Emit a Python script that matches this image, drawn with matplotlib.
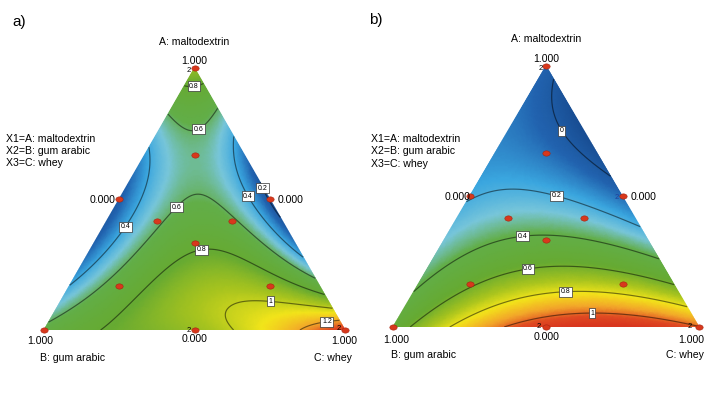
import numpy as np
import matplotlib
matplotlib.use("Agg")
import matplotlib.pyplot as plt
import matplotlib.tri as mtri
from matplotlib.colors import LinearSegmentedColormap, Normalize
from matplotlib.path import Path

plt.rcParams["font.family"] = ["Liberation Sans", "DejaVu Sans"]

# ------------------------------------------------------------------
# design points (mixture compositions A, B, C)
# ------------------------------------------------------------------
design_A = [1, 0, 0, 0.5, 0.5, 0, 1/3, 2/3, 1/6, 1/6, 5/12, 5/12]
design_B = [0, 1, 0, 0.5, 0, 0.5, 1/3, 1/6, 2/3, 1/6, 5/12, 1/6]
design_C = [0, 0, 1, 0, 0.5, 0.5, 1/3, 1/6, 1/6, 2/3, 1/6, 5/12]

# ------------------------------------------------------------------
# panel a) response (contour crossings etc.)
# ------------------------------------------------------------------
a_A = [1, 0, 0, 0.93, 0.93, 0.93, 0.81, 0.81, 0.81, 0.65,
       0.675, 0.55, 0.45, 0.30, 0.18, 0.03,
       0.755, 0.60, 0.45, 0.35, 0.29, 0.20, 0.14, 0.07,
       0, 0, 0, 0,
       1/3, 0.5, 0.275, 0.256, 0.294, 0.229, 0.164, 0.477, 0.393, 0.279,
       0.126, 0.382, 0.393, 0.508, 0.66, 0.546, 0.431, 0.076, 0.084, 0.034]
a_B = [0, 1, 0, 0.035, 0.07, 0, 0.19, 0.095, 0, 0.175,
       0.325, 0.45, 0.55, 0.70, 0.82, 0.97,
       0, 0, 0, 0, 0, 0, 0, 0,
       0.775, 0.5, 0.42, 0.15,
       1/3, 0.25, 0.3625, 0.496, 0.334, 0.177, 0.066, 0.166, 0.095, 0.043,
       0.784, 0.433, 0.56, 0.465, 0.04, 0.052, 0.043, 0.311, 0.207, 0.044]
a_val = [0.9, 0.65, 1.4, 0.8, 0.8, 0.8, 0.6, 0.6, 0.6, 0.5,
         0.4, 0.18, 0.15, 0.25, 0.4, 0.6,
         0.4, 0.18, 0.13, 0.2, 0.4, 0.6, 0.8, 1.0,
         0.8, 0.93, 1.0, 1.2,
         0.72, 0.6, 0.8, 0.8, 0.8, 0.8, 0.8, 0.6, 0.6, 0.6,
         0.6, 0.6, 0.4, 0.4, 0.4, 0.4, 0.4, 1.0, 1.0, 1.2]

# ------------------------------------------------------------------
# panel b) response
# ------------------------------------------------------------------
b_A = [1, 0, 0, 0, 0, 0, 0, 0,
       0.39, 0.257, 0.153, 0.065, 0.015, 0.585, 0.95,
       0.142, 0.456,
       0.054, 0.13, 0.23, 0.35, 0.525, 0.75]
b_B = [0, 1, 0, 0.944, 0.81, 0.64, 0.5, 0.35,
       0, 0, 0, 0, 0, 0, 0,
       0.858, 0.544,
       0.473, 0.435, 0.385, 0.325, 0.2375, 0.07]
b_val = [0.035, 0.5, 1.02, 0.6, 0.8, 1.0, 1.08, 1.12,
         0.2, 0.4, 0.6, 0.8, 1.0, 0.0, 0.0,
         0.4, 0.2,
         1.0, 0.8, 0.6, 0.4, 0.2, 0.0]

a_levels = [0.2, 0.4, 0.6, 0.8, 1.0, 1.2]
b_levels = [0.0, 0.2, 0.4, 0.6, 0.8, 1.0]


def scheffe_terms(A, B, C, order):
    cols = [A, B, C, A * B, A * C, B * C]
    if order == 3:
        cols += [A * B * (A - B), A * C * (A - C), B * C * (B - C), A * B * C]
    if order == 4:
        cols += [A * B * (A - B), A * C * (A - C), B * C * (B - C),
                 A * B * (A - B) ** 2, A * C * (A - C) ** 2, B * C * (B - C) ** 2,
                 A * A * B * C, A * B * B * C, A * B * C * C]
    return np.column_stack(cols)


def fit_model(A, B, val, order):
    A = np.asarray(A, float)
    B = np.asarray(B, float)
    C = 1 - A - B
    X = scheffe_terms(A, B, C, order)
    coef, *_ = np.linalg.lstsq(X, np.asarray(val, float), rcond=None)
    return coef


# triangular grid (B bottom-left, C bottom-right, A top)
n = 150
ii, jj = np.meshgrid(np.arange(n + 1), np.arange(n + 1))
m = ii + jj <= n
gA = ii[m] / n
gC = jj[m] / n
gB = np.clip(1 - gA - gC, 0, 1)
H = np.sqrt(3) / 2
tri = mtri.Triangulation(gC + gA / 2, gA * H)

cmap = LinearSegmentedColormap.from_list("de", [
    (0.00, "#15468a"), (0.12, "#2264b0"), (0.22, "#3aa6df"), (0.31, "#78c6da"),
    (0.40, "#62ae48"), (0.55, "#66aa32"), (0.66, "#a8c41e"), (0.75, "#f2e51a"),
    (0.85, "#f2a52a"), (0.93, "#e04a22"), (1.00, "#d8361e")])

W, HP = 708, 405
fig = plt.figure(figsize=(W / 100, HP / 100), dpi=100)


def px(x, y):
    return x / W, 1 - y / HP


def panel(rect, A, B, val, order, levels, vmin, vmax, label_px):
    ax = fig.add_axes(rect)
    ax.set_xlim(0, 1)
    ax.set_ylim(0, H)
    ax.axis("off")
    coef = fit_model(A, B, val, order)
    z = scheffe_terms(gA, gB, gC, order) @ coef
    norm = Normalize(vmin, vmax)
    ax.tripcolor(tri, z, shading="gouraud", cmap=cmap, norm=norm)
    lc = [tuple(np.array(cmap(norm(l))[:3]) * 0.5) for l in levels]
    cs = ax.tricontour(tri, z, levels=levels, colors=lc, linewidths=0.85)
    inv = ax.transData.inverted()
    pos = [tuple(inv.transform((x, HP - y))) for x, y in label_px]
    ax.clabel(cs, manual=pos, inline=False, fontsize=5,
              fmt=lambda v: f"{v:g}", colors="black")
    for t in cs.labelTexts:
        t.set_rotation(0)
        t.set_zorder(4)
        t.set_bbox(dict(boxstyle="square,pad=0.22", fc="white", ec="#333333", lw=0.5))
    dA = np.array(design_A)
    dC = np.array(design_C)
    circ = Path.unit_circle()
    ell = Path(circ.vertices * [1.0, 0.72], circ.codes)
    ax.scatter(dC + dA / 2, dA * H, s=28, marker=ell, color="#d8381c",
               edgecolor="#a52410", linewidth=0.4, zorder=5, clip_on=False)
    return ax


panel([44 / W, 1 - 330 / HP, 301 / W, 262 / HP], a_A, a_B, a_val, 4, a_levels, 0.1, 1.4,
      [(194, 86), (194, 121), (173, 204), (121, 224), (247, 197), (263, 188),
       (202, 253), (270, 302), (327, 322)])
panel([393 / W, 1 - 327 / HP, 306 / W, 261 / HP], b_A, b_B, b_val, 2, b_levels, -0.1, 1.12,
      [(561, 131), (558, 191), (522, 230), (527, 263), (565, 286), (592, 309)])

fs = 7.6
# panel a texts
fig.text(*px(12, 22), "a)", fontsize=11, va="center", ha="left")
fig.text(*px(194, 42), "A: maltodextrin", fontsize=fs, ha="center", va="center")
fig.text(*px(194, 61), "1.000", fontsize=fs, ha="center", va="center")
fig.text(*px(116, 200), "0.000", fontsize=fs, ha="right", va="center")
fig.text(*px(278, 200), "0.000", fontsize=fs, ha="left", va="center")
fig.text(*px(40, 341), "1.000", fontsize=fs, ha="center", va="center")
fig.text(*px(195, 339), "0.000", fontsize=fs, ha="center", va="center")
fig.text(*px(344, 341), "1.000", fontsize=fs, ha="center", va="center")
fig.text(*px(40, 358), "B: gum arabic", fontsize=fs, ha="left", va="center")
fig.text(*px(352, 358), "C: whey", fontsize=fs, ha="right", va="center")
for i, s in enumerate(["X1=A: maltodextrin", "X2=B: gum arabic", "X3=C: whey"]):
    fig.text(*px(6, 139 + 11.8 * i), s, fontsize=fs, ha="left", va="center")
for x, y in [(191, 70), (191, 330), (341, 328)]:
    fig.text(*px(x, y), "2", fontsize=5.5, ha="right", va="center")

# panel b texts
fig.text(*px(369, 20), "b)", fontsize=11, va="center", ha="left")
fig.text(*px(546, 39), "A: maltodextrin", fontsize=fs, ha="center", va="center")
fig.text(*px(546, 59), "1.000", fontsize=fs, ha="center", va="center")
fig.text(*px(470, 197), "0.000", fontsize=fs, ha="right", va="center")
fig.text(*px(631, 197), "0.000", fontsize=fs, ha="left", va="center")
fig.text(*px(396, 340), "1.000", fontsize=fs, ha="center", va="center")
fig.text(*px(547, 337), "0.000", fontsize=fs, ha="center", va="center")
fig.text(*px(691, 340), "1.000", fontsize=fs, ha="center", va="center")
fig.text(*px(391, 355), "B: gum arabic", fontsize=fs, ha="left", va="center")
fig.text(*px(704, 355), "C: whey", fontsize=fs, ha="right", va="center")
for i, s in enumerate(["X1=A: maltodextrin", "X2=B: gum arabic", "X3=C: whey"]):
    fig.text(*px(371, 139 + 12.3 * i), s, fontsize=fs, ha="left", va="center")
for x, y, c in [(543, 68, "black"), (619, 197, "#1f3f9f"), (541, 327, "black"), (692, 327, "black")]:
    fig.text(*px(x, y), "2", fontsize=5.5, ha="right", va="center", color=c)

fig.savefig("out.png", dpi=100)
